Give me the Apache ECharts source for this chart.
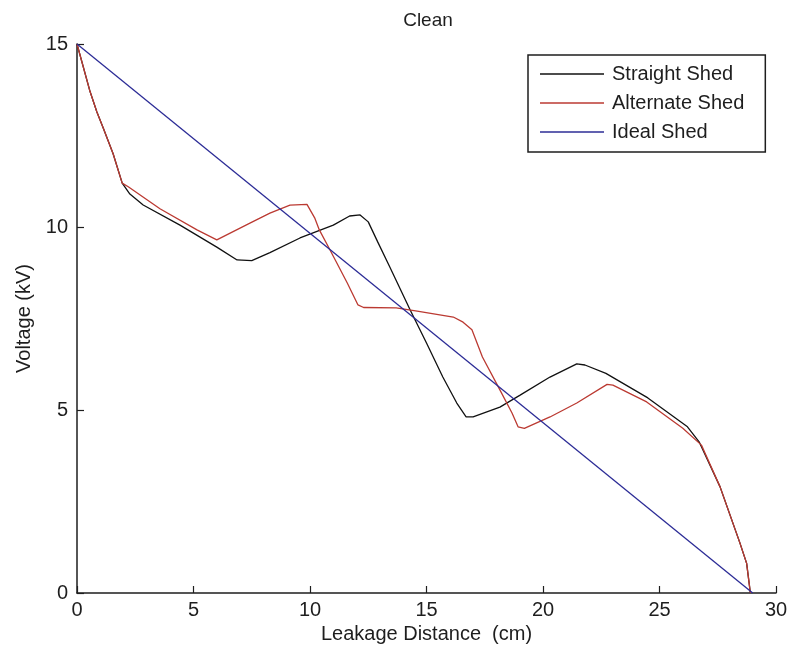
<!DOCTYPE html>
<html>
<head>
<meta charset="utf-8">
<title>Clean</title>
<script src="https://cdn.jsdelivr.net/npm/echarts@6/dist/echarts.min.js"></script>
<style>
  html, body { margin: 0; padding: 0; background: #fff; }
  #chart { width: 791px; height: 659px; }
</style>
</head>
<body>
<div id="chart"></div>
<script>
// Leakage distance (cm) and voltage (kV) along each shed profile
const straightX = [0, 0.56, 0.85, 1.13, 1.55, 1.94, 2.27, 2.84, 4.42, 6.0, 6.87, 7.5, 8.28, 9.57, 11.0, 11.7, 12.15, 12.5, 12.9, 13.43, 14.3, 15.0, 15.7, 16.3, 16.7, 17.0, 18.15, 19.0, 20.3, 21.45, 21.8, 22.7, 24.5, 26.2, 26.7, 27.6, 28.45, 28.74, 28.9];
const straightV = [15, 13.7, 13.15, 12.7, 12.0, 11.2, 10.9, 10.6, 10.05, 9.45, 9.1, 9.08, 9.3, 9.7, 10.05, 10.3, 10.33, 10.14, 9.6, 8.9, 7.73, 6.83, 5.9, 5.19, 4.81, 4.81, 5.08, 5.4, 5.9, 6.26, 6.23, 6.0, 5.33, 4.54, 4.13, 2.9, 1.37, 0.81, 0];

const alternateX = [0, 0.56, 0.85, 1.13, 1.55, 1.94, 2.2, 3.56, 5.15, 6.0, 7.4, 8.28, 9.14, 9.87, 10.2, 10.4, 10.86, 11.6, 12.06, 12.3, 13.7, 14.6, 16.15, 16.57, 16.95, 17.4, 18.15, 18.67, 18.93, 19.2, 20.3, 21.45, 22.75, 23.0, 24.45, 26.0, 26.8, 27.6, 28.45, 28.74, 28.9];
const alternateV = [15, 13.7, 13.15, 12.7, 12.0, 11.2, 11.1, 10.5, 9.92, 9.65, 10.1, 10.38, 10.6, 10.62, 10.25, 9.92, 9.37, 8.47, 7.87, 7.8, 7.79, 7.7, 7.54, 7.4, 7.19, 6.45, 5.55, 4.92, 4.54, 4.5, 4.81, 5.19, 5.7, 5.68, 5.22, 4.5, 4.04, 2.9, 1.37, 0.81, 0];

const idealX = [0, 29];
const idealV = [15, 0];

const seriesNames = ['Straight Shed', 'Alternate Shed', 'Ideal Shed'];
const xTicks = { min: 0, max: 30, step: 5 };
const yTicks = { min: 0, max: 15, step: 5 };

const pairs = (xs, ys) => xs.map((x, i) => [x, ys[i]]);

const FONT = "'Liberation Sans', Arial, Helvetica, sans-serif";
const INK = '#1e1e1e';

const chart = echarts.init(document.getElementById('chart'), null, { renderer: 'canvas' });

const lineSeries = (name, data, color) => ({
  name,
  type: 'line',
  data,
  symbol: 'none',
  showSymbol: false,
  smooth: false,
  animation: false,
  lineStyle: { color, width: 1.3 },
  itemStyle: { color },
  emphasis: { disabled: true }
});

chart.setOption({
  backgroundColor: '#ffffff',
  animation: false,
  textStyle: { fontFamily: FONT },
  title: {
    text: 'Clean',
    left: 423,
    top: 6,
    textAlign: 'center',
    textStyle: { fontFamily: FONT, fontSize: 19, fontWeight: 'normal', color: INK }
  },
  grid: { left: 77, right: 15, top: 44, bottom: 66 },
  legend: {
    data: seriesNames,
    orient: 'vertical',
    left: 528,
    top: 55,
    icon: 'rect',
    itemWidth: 64,
    itemHeight: 1.6,
    itemGap: 9,
    padding: [9, 21, 10, 12],
    borderColor: '#1e1e1e',
    borderWidth: 1.5,
    backgroundColor: '#ffffff',
    selectedMode: false,
    textStyle: { fontFamily: FONT, fontSize: 20, color: INK, lineHeight: 20, padding: [0, 0, 0, 3] }
  },
  xAxis: {
    type: 'value',
    min: xTicks.min,
    max: xTicks.max,
    interval: xTicks.step,
    name: 'Leakage Distance  (cm)',
    nameLocation: 'middle',
    nameGap: 30,
    nameTextStyle: { fontFamily: FONT, fontSize: 20, color: INK },
    axisLine: { show: true, onZero: false, lineStyle: { color: INK, width: 1.5 } },
    axisTick: { show: true, inside: true, length: 7, lineStyle: { color: INK, width: 1.2 } },
    axisLabel: { fontFamily: FONT, fontSize: 20, color: INK, margin: 7 },
    splitLine: { show: false }
  },
  yAxis: {
    type: 'value',
    min: yTicks.min,
    max: yTicks.max,
    interval: yTicks.step,
    name: 'Voltage (kV)',
    nameLocation: 'middle',
    nameGap: 42,
    nameTextStyle: { fontFamily: FONT, fontSize: 20, color: INK },
    axisLine: { show: true, onZero: false, lineStyle: { color: INK, width: 1.5 } },
    axisTick: { show: true, inside: true, length: 7, lineStyle: { color: INK, width: 1.2 } },
    axisLabel: { fontFamily: FONT, fontSize: 20, color: INK, margin: 9 },
    splitLine: { show: false }
  },
  series: [
    lineSeries(seriesNames[0], pairs(straightX, straightV), '#111111'),
    lineSeries(seriesNames[1], pairs(alternateX, alternateV), '#bb3a32'),
    lineSeries(seriesNames[2], pairs(idealX, idealV), '#2c2c96')
  ]
});
</script>
</body>
</html>
